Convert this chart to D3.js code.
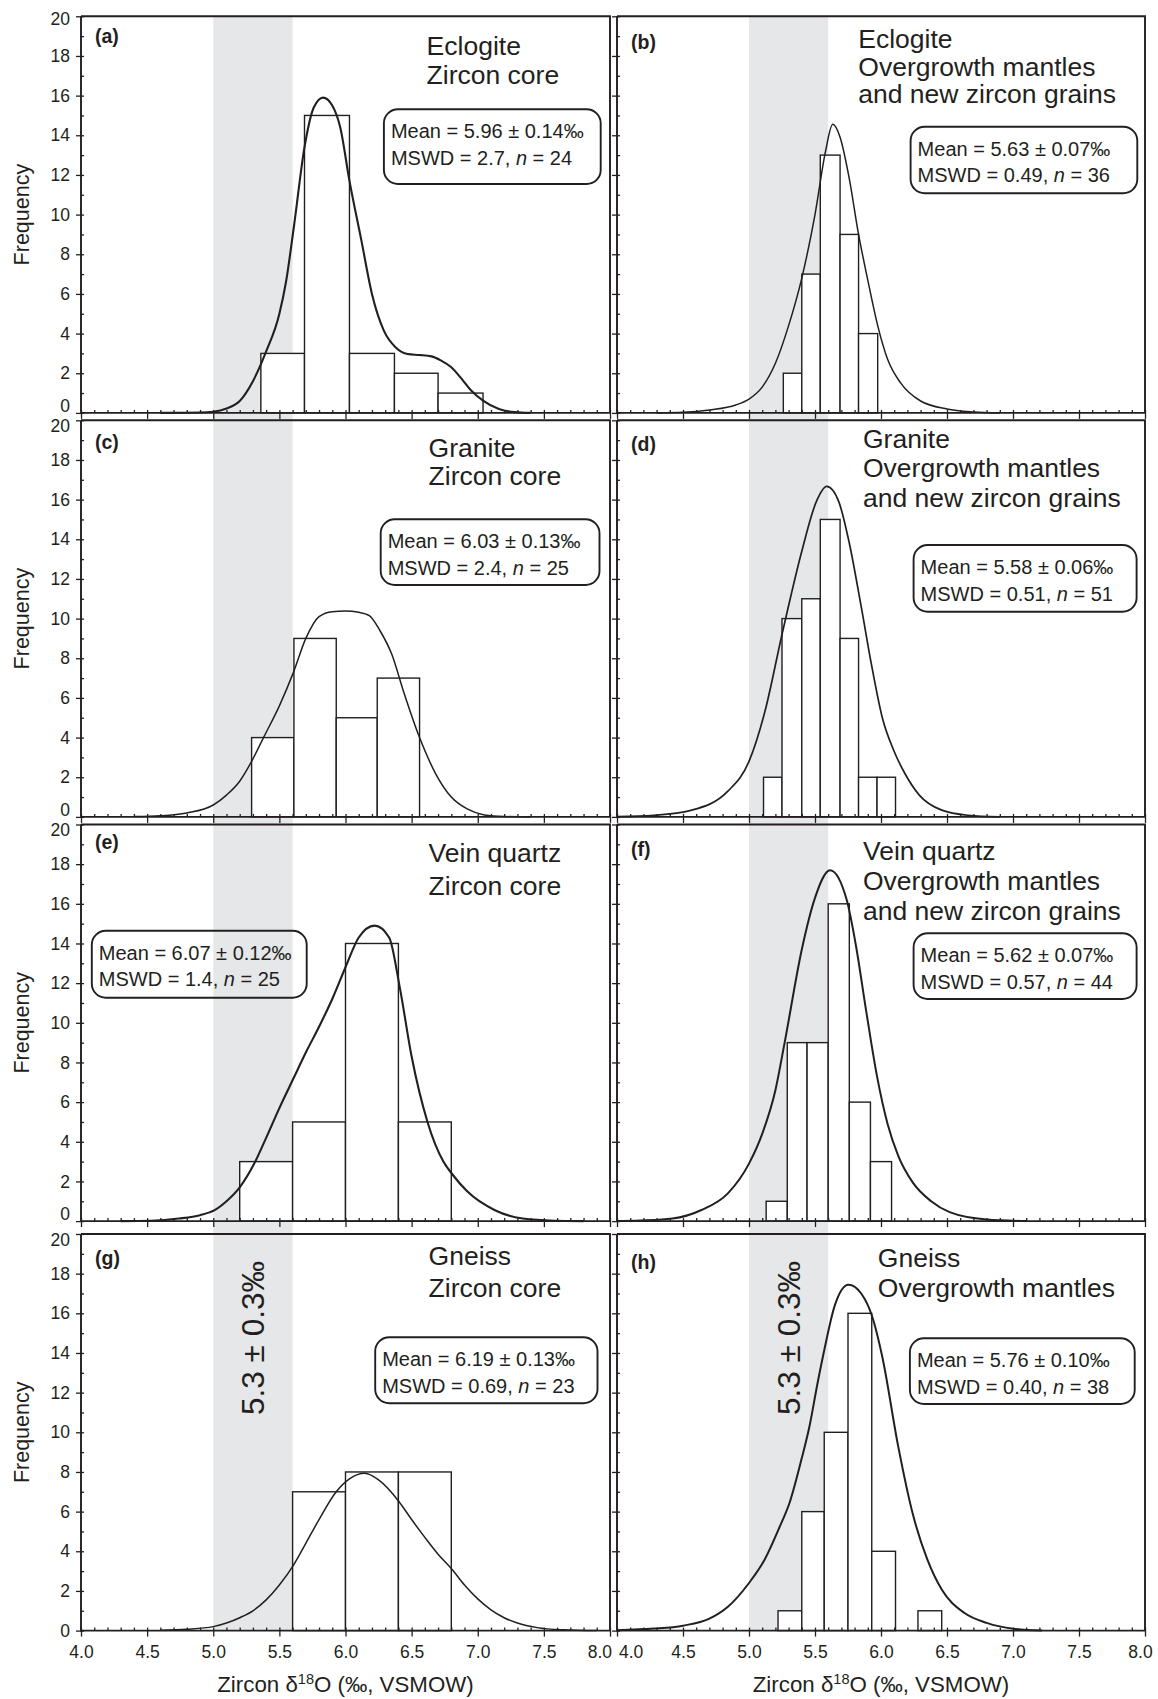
<!DOCTYPE html>
<html>
<head>
<meta charset="utf-8">
<script src="https://cdn.jsdelivr.net/npm/d3@7"></script>
<style>
  body { margin: 0; background: #fff; }
  svg { display: block; }
  text { font-family: "Liberation Sans", Arial, Helvetica, sans-serif; fill: #231f20; }
</style>
</head>
<body>
<svg id="chart" width="1158" height="1699"></svg>
<script>
// ---------- data ----------
const panelLetters = ["a", "b", "c", "d", "e", "f", "g", "h"];
const rockTypes = ["Eclogite", "Eclogite", "Granite", "Granite", "Vein quartz", "Vein quartz", "Gneiss", "Gneiss"];
const domainLines = [
  ["Zircon core"], ["Overgrowth mantles", "and new zircon grains"],
  ["Zircon core"], ["Overgrowth mantles", "and new zircon grains"],
  ["Zircon core"], ["Overgrowth mantles", "and new zircon grains"],
  ["Zircon core"], ["Overgrowth mantles"]
];
const meanValues = [5.96, 5.63, 6.03, 5.58, 6.07, 5.62, 6.19, 5.76];
const meanErrors = ["0.14", "0.07", "0.13", "0.06", "0.12", "0.07", "0.13", "0.10"];
const mswdValues = ["2.7", "0.49", "2.4", "0.51", "1.4", "0.57", "0.69", "0.40"];
const nAnalyses = [24, 36, 25, 51, 25, 44, 23, 38];

// mantle zircon reference range, 5.3 ± 0.3 ‰
const mantleRange = [5.0, 5.6];
const mantleLabel = "5.3 ± 0.3‰";

// histogram bins: [from, to, count]
const histA = [[5.36, 5.69, 3], [5.69, 6.03, 15], [6.03, 6.37, 3], [6.37, 6.70, 2], [6.70, 7.04, 1]];
const histB = [[5.26, 5.40, 2], [5.40, 5.54, 7], [5.54, 5.69, 13], [5.69, 5.83, 9], [5.83, 5.975, 4]];
const histC = [[5.29, 5.61, 4], [5.61, 5.93, 9], [5.93, 6.24, 5], [6.24, 6.56, 7]];
const histD = [[5.11, 5.25, 2], [5.25, 5.40, 10], [5.40, 5.54, 11], [5.54, 5.69, 15], [5.69, 5.83, 9], [5.83, 5.97, 2], [5.97, 6.11, 2]];
const histE = [[5.2, 5.6, 3], [5.6, 6.0, 5], [6.0, 6.4, 14], [6.4, 6.8, 5]];
const histF = [[5.13, 5.29, 1], [5.29, 5.44, 9], [5.44, 5.60, 9], [5.60, 5.76, 16], [5.76, 5.92, 6], [5.92, 6.08, 3]];
const histG = [[5.6, 6.0, 7], [6.0, 6.4, 8], [6.4, 6.8, 8]];
const histH = [[5.22, 5.40, 1], [5.40, 5.57, 6], [5.57, 5.75, 10], [5.75, 5.93, 16], [5.93, 6.11, 4], [6.28, 6.46, 1]];

// relative probability curves: [δ18O, frequency]
const curveA = [[4.6, 0], [4.9, 0.02], [5.0, 0.06], [5.1, 0.22], [5.2, 0.6], [5.3, 1.6], [5.4, 3.1], [5.5, 5.0],
  [5.55, 6.6], [5.61, 9.4], [5.69, 13.4], [5.76, 15.4], [5.83, 15.9], [5.9, 15.5], [5.96, 14.4], [6.03, 11.7],
  [6.12, 8.7], [6.2, 6.0], [6.29, 4.15], [6.38, 3.3], [6.47, 2.97], [6.56, 2.92], [6.65, 2.85], [6.72, 2.65],
  [6.8, 2.3], [6.88, 1.7], [6.95, 1.13], [7.04, 0.62], [7.16, 0.2], [7.28, 0.04], [7.4, 0]];
const curveB = [[4.3, 0], [4.5, 0.03], [4.7, 0.15], [4.9, 0.4], [5.0, 0.7], [5.1, 1.3], [5.2, 2.5], [5.3, 4.4],
  [5.4, 6.8], [5.5, 10.0], [5.58, 13.2], [5.634, 14.55], [5.69, 13.9], [5.76, 11.8], [5.83, 9.0], [5.9, 6.7],
  [5.975, 4.4], [6.05, 2.7], [6.15, 1.5], [6.3, 0.6], [6.5, 0.2], [6.7, 0.05], [6.9, 0]];
const curveC = [[4.4, 0.02], [4.6, 0.06], [4.8, 0.2], [5.0, 0.6], [5.1, 1.1], [5.2, 1.8], [5.29, 2.8], [5.38, 4.0],
  [5.5, 5.6], [5.607, 7.3], [5.7, 9.0], [5.8, 10.1], [5.9, 10.35], [6.0, 10.38], [6.1, 10.32], [6.18, 10.15],
  [6.26, 9.4], [6.35, 8.2], [6.44, 6.3], [6.56, 4.0], [6.68, 2.2], [6.8, 1.0], [6.92, 0.4], [7.05, 0.1],
  [7.2, 0.02], [7.4, 0]];
const curveD = [[4.0, 0.01], [4.28, 0.08], [4.56, 0.33], [4.84, 1.3], [5.0, 2.8], [5.12, 5.3], [5.25, 9.2],
  [5.4, 13.4], [5.51, 15.9], [5.589, 16.67], [5.68, 15.9], [5.76, 13.8], [5.85, 10.6], [5.93, 7.6], [6.01, 5.0],
  [6.1, 3.3], [6.18, 2.2], [6.29, 1.1], [6.46, 0.34], [6.66, 0.08], [6.9, 0]];
const curveE = [[4.3, 0], [4.53, 0.02], [4.74, 0.13], [4.9, 0.3], [5.01, 0.55], [5.1, 1.0], [5.2, 1.7],
  [5.31, 2.9], [5.4, 4.2], [5.5, 5.7], [5.607, 7.2], [5.7, 8.5], [5.8, 9.8], [5.9, 11.2], [6.0, 12.8],
  [6.1, 14.3], [6.22, 14.9], [6.33, 14.3], [6.41, 11.8], [6.5, 8.3], [6.62, 5.0], [6.74, 3.0], [6.815, 2.3],
  [6.92, 1.5], [7.13, 0.55], [7.34, 0.13], [7.58, 0.02], [7.8, 0]];
const curveF = [[4.0, 0.01], [4.14, 0.02], [4.42, 0.13], [4.64, 0.56], [4.84, 1.4], [5.0, 2.9], [5.1, 4.4],
  [5.2, 6.6], [5.27, 9.0], [5.4, 13.7], [5.5, 16.3], [5.614, 17.69], [5.74, 16.2], [5.81, 13.9], [5.89, 10.5],
  [5.97, 7.3], [6.05, 4.9], [6.13, 3.3], [6.24, 1.95], [6.38, 1.0], [6.52, 0.45], [6.8, 0.08], [7.1, 0]];
const curveG = [[4.6, 0.02], [4.8, 0.07], [5.0, 0.2], [5.1, 0.38], [5.2, 0.65], [5.3, 1.0], [5.4, 1.55],
  [5.5, 2.3], [5.607, 3.3], [5.7, 4.4], [5.8, 5.6], [5.93, 7.0], [6.03, 7.65], [6.145, 7.93], [6.25, 7.6],
  [6.405, 6.5], [6.5, 5.6], [6.6, 4.7], [6.7, 3.85], [6.806, 3.08], [6.9, 2.3], [7.0, 1.6], [7.1, 1.05],
  [7.2, 0.65], [7.3, 0.38], [7.45, 0.15], [7.65, 0.04], [7.9, 0]];
const curveH = [[4.0, 0.02], [4.28, 0.1], [4.5, 0.25], [4.7, 0.6], [4.84, 1.2], [5.0, 2.4], [5.12, 3.6],
  [5.23, 5.2], [5.31, 6.5], [5.4, 8.7], [5.455, 10.2], [5.52, 12.5], [5.572, 14.2], [5.65, 16.4], [5.754, 17.44],
  [5.85, 17.0], [5.93, 15.9], [6.01, 13.8], [6.13, 9.3], [6.24, 5.9], [6.35, 3.6], [6.46, 2.07], [6.63, 0.9],
  [6.8, 0.39], [7.02, 0.08], [7.22, 0]];

const histograms = [histA, histB, histC, histD, histE, histF, histG, histH];
const curves = [curveA, curveB, curveC, curveD, curveE, curveF, curveG, curveH];

// axes
const xDomain = [4, 8];
const yDomain = [0, 20];
const xTickValues = [4.0, 4.5, 5.0, 5.5, 6.0, 6.5, 7.0, 7.5, 8.0];
const xTickLabels = ["4.0", "4.5", "5.0", "5.5", "6.0", "6.5", "7.0", "7.5", "8.0"];
const xMinorTicks = [4.0, 4.1, 4.2, 4.3, 4.4, 4.5, 4.6, 4.7, 4.8, 4.9, 5.0, 5.1, 5.2, 5.3, 5.4, 5.5, 5.6, 5.7,
  5.8, 5.9, 6.0, 6.1, 6.2, 6.3, 6.4, 6.5, 6.6, 6.7, 6.8, 6.9, 7.0, 7.1, 7.2, 7.3, 7.4, 7.5, 7.6, 7.7, 7.8, 7.9, 8.0];
const yTickValues = [0, 2, 4, 6, 8, 10, 12, 14, 16, 18, 20];
const yMinorTicks = [0, 1, 2, 3, 4, 5, 6, 7, 8, 9, 10, 11, 12, 13, 14, 15, 16, 17, 18, 19, 20];
const yAxisTitle = "Frequency";

// ---------- layout ----------
const ink = "#231f20";
const bandFill = "#e6e7e8";
const colLeft = [81, 617];
const colWidth = [529, 528];
const rowTop = [16.3, 420.3, 824.5, 1234];
const plotH = 396.6;

// per-panel placement of titles, statistics boxes and letters (pixels from panel's top-left)
const placement = [
  { titleX: 345.6, titleY: [38.7, 67.7], box: [302.9, 93, 216.8, 74.7], letterY: 26.5, curveW: 2.1 },
  { titleX: 241.3, titleY: [31.7, 59.7, 86.7], box: [293.6, 110.4, 226.7, 66.6], letterY: 33, curveW: 1.5 },
  { titleX: 347.6, titleY: [37, 64.7], box: [299.7, 99, 218.8, 65.7], letterY: 29, curveW: 1.5 },
  { titleX: 246, titleY: [28, 57, 86.4], box: [296.6, 124.7, 223, 66.7], letterY: 31, curveW: 1.7 },
  { titleX: 347.6, titleY: [37.2, 70.5], box: [10.8, 106.2, 214.9, 67], letterY: 24.5, curveW: 2.1 },
  { titleX: 246, titleY: [35.5, 65.5, 95.5], box: [296.6, 108.8, 223, 65.7], letterY: 31.5, curveW: 2 },
  { titleX: 347.6, titleY: [31, 63], box: [294.2, 103.3, 222.3, 66], letterY: 30.5, curveW: 1.5 },
  { titleX: 260.8, titleY: [32.7, 62.7], box: [292.9, 104.3, 224.8, 65.7], letterY: 35, curveW: 2 }
];

const svg = d3.select("#chart");
const fontTick = 17.5, fontTitle = 26.5, fontStats = 20, fontAxis = 22.3;

function colScale(c) {
  return d3.scaleLinear(xDomain, [colLeft[c], colLeft[c] + colWidth[c]]);
}

// shaded reference band runs through every row of each column
[0, 1].forEach(c => {
  const x = colScale(c);
  svg.append("rect")
    .attr("x", x(mantleRange[0]))
    .attr("width", x(mantleRange[1]) - x(mantleRange[0]))
    .attr("y", rowTop[0])
    .attr("height", rowTop[3] + plotH - rowTop[0])
    .attr("fill", bandFill);
});

function styleAxis(g) {
  g.select(".domain").remove();
  g.selectAll(".tick line").attr("stroke", ink).attr("stroke-width", 1.3);
  g.selectAll(".tick text")
    .attr("fill", ink)
    .style("font-size", fontTick + "px")
    .style("font-family", '"Liberation Sans", Arial, sans-serif');
  g.attr("font-family", null).attr("font-size", null);
}

panelLetters.forEach((id, i) => {
  const col = i % 2, row = Math.floor(i / 2);
  const lay = placement[i];
  const x0 = colLeft[col], x1 = x0 + colWidth[col];
  const top = rowTop[row], base = top + plotH;
  const x = colScale(col);
  const y = d3.scaleLinear(yDomain, [base, top]);
  const g = svg.append("g").attr("class", "panel panel-" + id);

  // histogram
  g.selectAll("rect.bar").data(histograms[i]).join("rect")
    .attr("class", "bar")
    .attr("x", d => x(d[0]))
    .attr("y", d => y(d[2]))
    .attr("width", d => x(d[1]) - x(d[0]))
    .attr("height", d => y(0) - y(d[2]))
    .attr("fill", "#fff")
    .attr("stroke", ink)
    .attr("stroke-width", 1.4);

  // probability curve
  g.append("path")
    .datum(curves[i])
    .attr("d", d3.line().x(d => x(d[0])).y(d => y(d[1])).curve(d3.curveMonotoneX))
    .attr("fill", "none")
    .attr("stroke", ink)
    .attr("stroke-width", lay.curveW)
    .attr("stroke-linejoin", "round");

  // y axis: outward majors (+labels in left column), inward minors
  const yAxisG = g.append("g").attr("transform", `translate(${x0},0)`)
    .call(d3.axisLeft(y).tickValues(yTickValues).tickSize(5).tickPadding(6)
      .tickFormat(d => col === 0 ? String(d) : ""))
    .call(styleAxis);
  // keep the stacked "0" / "20" labels of neighbouring panels apart
  yAxisG.selectAll(".tick text")
    .attr("transform", d => {
      if (d === 20) return row === 0 ? "translate(0,2.5)" : "translate(0,5.5)";
      if (d === 0 && row < 3) return "translate(0,-7)";
      return null;
    });
  g.append("g").attr("transform", `translate(${x0},0)`)
    .call(d3.axisRight(y).tickValues(yMinorTicks).tickSize(3).tickFormat(() => ""))
    .call(styleAxis);

  // x axis: outward majors (+labels in bottom row), inward minors
  const xAxisG = g.append("g").attr("transform", `translate(0,${base})`)
    .call(d3.axisBottom(x).tickValues(xTickValues).tickSize(6).tickPadding(9)
      .tickFormat((d, k) => row === 3 ? xTickLabels[k] : ""))
    .call(styleAxis);
  g.append("g").attr("transform", `translate(0,${base})`)
    .call(d3.axisTop(x).tickValues(xMinorTicks).tickSize(3).tickFormat(() => ""))
    .call(styleAxis);

  if (row === 3) {
    xAxisG.selectAll(".tick text").each(function (d) {
      const t = d3.select(this);
      if (col === 0 && d === 8) t.attr("text-anchor", "end").attr("x", 1.5);
      if (col === 1 && d === 4) t.attr("text-anchor", "start").attr("x", 1.5);
      if (col === 1 && d === 8) t.attr("x", -5);
    });
  }

  // frame: axes on left/bottom, border on top/right
  g.append("path")
    .attr("d", `M${x0},${top}V${base}H${x1}V${top}H${x0}`)
    .attr("fill", "none")
    .attr("stroke", ink)
    .attr("stroke-width", 1.9);

  // panel letter
  g.append("text")
    .attr("x", x0 + 14)
    .attr("y", top + lay.letterY)
    .style("font-size", "19.5px")
    .style("font-weight", "bold")
    .text(`(${id})`);

  // sample / domain title
  const titleLines = [rockTypes[i]].concat(domainLines[i]);
  g.append("g").selectAll("text").data(titleLines).join("text")
    .attr("x", x0 + lay.titleX)
    .attr("y", (d, k) => top + lay.titleY[k])
    .style("font-size", fontTitle + "px")
    .text(d => d);

  // weighted-mean statistics box
  const [bx, by, bw, bh] = lay.box;
  g.append("rect")
    .attr("x", x0 + bx).attr("y", top + by)
    .attr("width", bw).attr("height", bh)
    .attr("rx", 14).attr("ry", 14)
    .attr("fill", "none")
    .attr("stroke", ink)
    .attr("stroke-width", 1.9);
  g.append("text")
    .attr("x", x0 + bx + 7).attr("y", top + by + 29)
    .style("font-size", fontStats + "px")
    .text(`Mean = ${meanValues[i].toFixed(2)} ± ${meanErrors[i]}‰`);
  const t2 = g.append("text")
    .attr("x", x0 + bx + 7).attr("y", top + by + 55.5)
    .style("font-size", fontStats + "px");
  t2.append("tspan").text(`MSWD = ${mswdValues[i]}, `);
  t2.append("tspan").style("font-style", "italic").text("n");
  t2.append("tspan").text(` = ${nAnalyses[i]}`);

  // mantle range label in the bottom row
  if (row === 3) {
    const cx = x((mantleRange[0] + mantleRange[1]) / 2);
    const cy = top + 104;
    g.append("text")
      .attr("transform", `translate(${cx},${cy}) rotate(-90)`)
      .attr("text-anchor", "middle")
      .attr("dominant-baseline", "central")
      .style("font-size", "31.5px")
      .text(mantleLabel);
  }

  // axis titles
  if (col === 0) {
    g.append("text")
      .attr("transform", `translate(28.5,${(top + base) / 2}) rotate(-90)`)
      .attr("text-anchor", "middle")
      .style("font-size", "21.5px")
      .text(yAxisTitle);
  }
  if (row === 3) {
    const tt = g.append("text")
      .attr("x", (x0 + x1) / 2)
      .attr("y", 1692)
      .attr("text-anchor", "middle")
      .style("font-size", fontAxis + "px");
    tt.append("tspan").text("Zircon δ");
    tt.append("tspan").attr("dy", -8).style("font-size", "14.5px").text("18");
    tt.append("tspan").attr("dy", 8).text("O (‰, VSMOW)");
  }
});
</script>
</body>
</html>
